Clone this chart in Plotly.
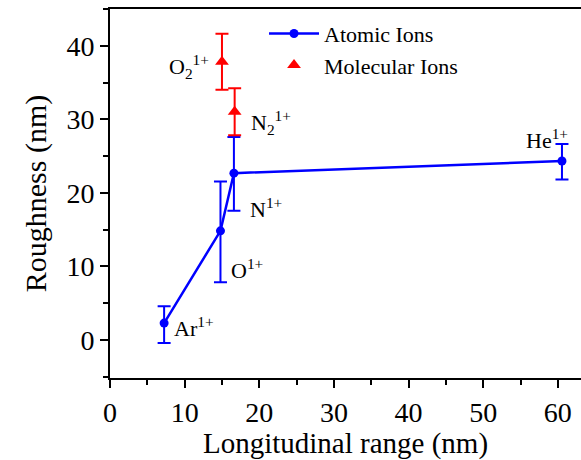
import plotly.graph_objects as go

# ---- data ----
atomic_names = ["Ar", "O", "N", "He"]
atomic_x = [7.25, 14.8, 16.6, 60.55]
atomic_y = [2.3, 14.85, 22.7, 24.35]
atomic_err_plus = [2.3, 6.7, 4.9, 2.3]
atomic_err_minus = [2.7, 7.0, 5.1, 2.5]

molecular_names = ["O2", "N2"]
molecular_x = [15.0, 16.7]
molecular_y = [37.85, 31.05]
molecular_err = [3.8, 3.2]

label_texts = ["Ar<sup>1+</sup>", "O<sup>1+</sup>", "N<sup>1+</sup>", "He<sup>1+</sup>",
               "O<sub>2</sub><sup>1+</sup>", "N<sub>2</sub><sup>1+</sup>"]
label_x = [8.3, 16.0, 18.5, 55.5, 13.5, 18.6]
label_y = [1.8, 9.6, 18.0, 27.4, 37.2, 29.6]
label_anchor = ["left", "left", "left", "left", "right", "left"]

x_ticks = [0, 10, 20, 30, 40, 50, 60]
y_ticks = [0, 10, 20, 30, 40]

FONT = "Liberation Serif, Times New Roman, serif"
BLUE = "#0000FF"
RED = "#FF0000"

fig = go.Figure()
fig.add_trace(go.Scatter(
    x=atomic_x, y=atomic_y, mode="lines+markers", name="Atomic Ions",
    line=dict(color=BLUE, width=2.5),
    marker=dict(color=BLUE, size=9, symbol="circle"),
    error_y=dict(type="data", symmetric=False, array=atomic_err_plus,
                 arrayminus=atomic_err_minus, color=BLUE, thickness=2, width=6.5),
))
fig.add_trace(go.Scatter(
    x=molecular_x, y=molecular_y, mode="markers", name="Molecular Ions",
    marker=dict(color=RED, size=12, symbol="triangle-up"),
    error_y=dict(type="data", array=molecular_err, color=RED, thickness=2, width=6.5),
))

for t, x, y, a in zip(label_texts, label_x, label_y, label_anchor):
    fig.add_annotation(x=x, y=y, text=t, showarrow=False, xanchor=a, yanchor="middle",
                       font=dict(family=FONT, size=22, color="black"))

fig.update_layout(
    width=581, height=460,
    margin=dict(l=110, r=0, t=9, b=82),
    paper_bgcolor="white", plot_bgcolor="white",
    font=dict(family=FONT, color="black"),
    showlegend=True,
    legend=dict(x=0.327, y=0.99, xanchor="left", yanchor="top",
                font=dict(family=FONT, size=22), bgcolor="rgba(0,0,0,0)",
                itemwidth=50, tracegroupgap=0),
)
fig.update_xaxes(
    range=[0, 63.1], tickvals=x_ticks, ticktext=[str(v) for v in x_ticks],
    showgrid=False, zeroline=False, showline=True, linecolor="black", linewidth=2,
    mirror=True, ticks="outside", ticklen=8, tickwidth=2, tickcolor="black",
    tickfont=dict(family=FONT, size=28),
    minor=dict(dtick=5, ticks="outside", ticklen=5, tickwidth=2, tickcolor="black", showgrid=False),
    title=dict(text="Longitudinal range (nm)", font=dict(family=FONT, size=29), standoff=3),
)
fig.update_yaxes(
    range=[-5.17, 45.03], tickvals=y_ticks, ticktext=[str(v) for v in y_ticks],
    showgrid=False, zeroline=False, showline=True, linecolor="black", linewidth=2,
    mirror=False, ticks="outside", ticklen=8, tickwidth=2, tickcolor="black",
    tickfont=dict(family=FONT, size=28),
    minor=dict(dtick=5, ticks="outside", ticklen=5, tickwidth=2, tickcolor="black", showgrid=False),
    title=dict(text="Roughness (nm)", font=dict(family=FONT, size=30), standoff=11),
)

fig.write_html("out.html")
